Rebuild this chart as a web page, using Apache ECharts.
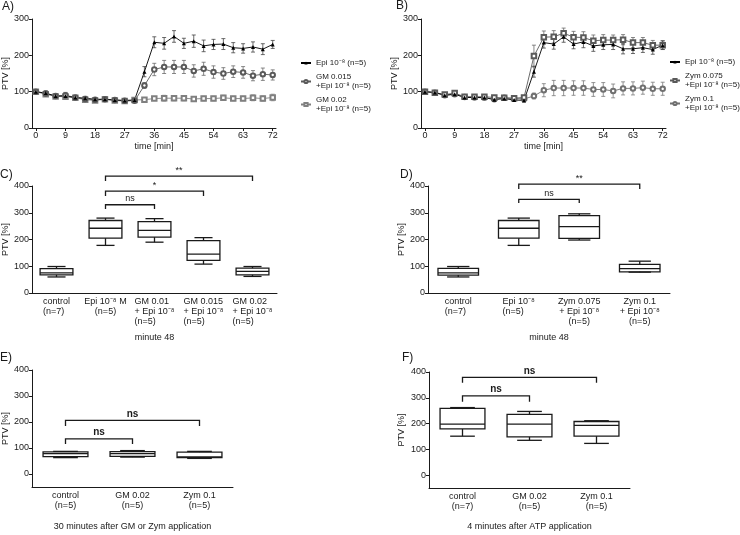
<!DOCTYPE html>
<html><head><meta charset="utf-8">
<script src="https://cdn.jsdelivr.net/npm/echarts@6/dist/echarts.min.js"></script>
<style>html,body{margin:0;padding:0;background:#fff}#c{width:740px;height:535px}</style>
</head><body><div id="c"></div>
<script>
// ---------------- DATA ----------------
const timeMin = [0,3,6,9,12,15,18,21,24,27,30,33,36,39,42,45,48,51,54,57,60,63,66,69,72];
const timeTicks = [0,9,18,27,36,45,54,63,72];

// Panel A
const nameEpi = 'Epi 10⁻⁸ (n=5)';
const nameGM015 = 'GM 0.015\n+Epi 10⁻⁸ (n=5)';
const nameGM02 = 'GM 0.02\n+Epi 10⁻⁸ (n=5)';
const epiA      = [100,96,88,88,84,82,79,79,77,76,77,155,236,233,252,233,239,226,230,231,221,219,223,217,230];
const epiAErr   = [3,6,4,6,4,5,3,6,4,3,5,14,15,16,16,14,17,16,14,15,14,13,14,15,11];
const gm015A    = [100,95,88,90,84,80,78,79,77,75,75,117,161,168,168,168,157,163,154,150,155,153,144,148,146];
const gm015AErr = [3,6,5,8,6,6,4,5,5,5,5,8,17,18,18,18,17,18,17,16,16,16,14,17,14];
const gm02A     = [100,93,87,86,83,78,76,79,76,74,77,78,81,82,82,82,80,81,81,83,81,81,83,81,84];
const gm02AErr  = [3,5,5,5,5,6,4,5,4,4,4,3,5,8,7,7,5,6,6,7,6,6,8,7,9];

// Panel B
const nameZym075 = 'Zym 0.075\n+Epi 10⁻⁸ (n=5)';
const nameZym01 = 'Zym 0.1\n+Epi 10⁻⁸ (n=5)';
const epiB       = [100,98,90,93,84,84,84,78,81,77,76,155,235,231,251,231,237,226,229,230,218,218,221,216,228];
const epiBErr    = [3,4,4,4,3,4,3,4,4,4,4,15,15,14,15,13,16,15,13,14,14,13,13,13,12];
const zym075B    = [100,97,92,96,86,86,86,84,83,82,84,198,250,251,261,250,249,240,242,242,243,235,235,228,228];
const zym075BErr = [3,3,3,4,3,3,3,4,3,3,4,30,17,17,14,16,16,16,15,14,14,14,14,13,12];
const zym01B     = [100,97,90,93,85,84,83,79,83,81,80,88,104,110,110,110,110,106,106,102,109,109,111,108,108];
const zym01BErr  = [3,4,4,4,4,3,4,4,4,4,4,8,18,21,21,20,20,19,19,19,18,18,18,18,18];

// Panel C  (min, q1, median, q3, max)
const catC = ['control\n(n=7)', 'Epi 10⁻⁸ M\n(n=5)', 'GM 0.01\n+ Epi 10⁻⁸\n(n=5)', 'GM 0.015\n+ Epi 10⁻⁸\n(n=5)', 'GM 0.02\n+ Epi 10⁻⁸\n(n=5)'];
const boxC = [[60,68,75,91,99],[178,205,242,271,280],[190,209,234,267,278],[108,122,145,196,207],[62,68,81,93,99]];
const bracketsC = [{from:1,to:2,top:330,drop:314,text:'ns'},{from:1,to:3,top:381,drop:363,text:'*'},{from:1,to:4,top:437,drop:419,text:'**'}];

// Panel D
const catD = ['control\n(n=7)', 'Epi 10⁻⁸\n(n=5)', 'Zym 0.075\n+ Epi 10⁻⁸\n(n=5)', 'Zym 0.1\n+ Epi 10⁻⁸\n(n=5)'];
const boxD = [[60,67,75,92,99],[178,205,242,271,280],[198,204,248,289,296],[78,79,91,107,119]];
const bracketsD = [{from:1,to:2,top:350,drop:336,text:'ns'},{from:1,to:3,top:407,drop:389,text:'**'}];

// Panel E
const catE = ['control\n(n=5)', 'GM 0.02\n(n=5)', 'Zym 0.1\n(n=5)'];
const boxE = [[63,67,78,85,87],[65,68,78,86,90],[60,63,66,84,87]];
const bracketsE = [{from:0,to:1,top:135,drop:115,text:'ns'},{from:0,to:2,top:206,drop:185,text:'ns'}];

// Panel F
const catF = ['control\n(n=7)', 'GM 0.02\n(n=5)', 'Zym 0.1\n(n=5)'];
const boxF = [[151,179,198,259,262],[135,148,198,236,247],[123,151,193,208,211]];
const bracketsF = [{from:0,to:1,top:307,drop:285,text:'ns'},{from:0,to:2,top:379,drop:358,text:'ns'}];

const yTicks300 = [0,100,200,300];
const yTicks400 = [0,100,200,300,400];

// ---------------- STYLE / HELPERS ----------------
const FONT = '"Liberation Sans", Arial, Helvetica, sans-serif';
const INK = '#1a1a1a';
const txt = {fontFamily: FONT, fontSize: 9, color: INK};

function errSeries(x, y, means, errs, color) {
  return {
    type: 'custom', xAxisIndex: x, yAxisIndex: y, clip: false, z: 1, silent: true,
    data: timeMin.map((t, i) => [t, means[i], errs[i]]),
    renderItem: function (params, api) {
      const t = api.value(0), m = api.value(1), e = api.value(2);
      const a = api.coord([t, m + e]), b = api.coord([t, m - e]);
      const w = 2, st = {stroke: color, lineWidth: 0.8};
      return {type: 'group', children: [
        {type: 'line', shape: {x1: a[0], y1: a[1], x2: b[0], y2: b[1]}, style: st},
        {type: 'line', shape: {x1: a[0] - w, y1: a[1], x2: a[0] + w, y2: a[1]}, style: st},
        {type: 'line', shape: {x1: b[0] - w, y1: b[1], x2: b[0] + w, y2: b[1]}, style: st}
      ]};
    }
  };
}
function lineSeries(name, x, y, vals, color, symbol, size) {
  return {
    type: 'line', name: name, xAxisIndex: x, yAxisIndex: y, z: 3,
    data: timeMin.map((t, i) => [t, vals[i]]),
    symbol: symbol, symbolSize: size, showAllSymbol: true,
    lineStyle: {color: color, width: 0.9},
    itemStyle: {color: color, borderWidth: 0.8}
  };
}
function boxSeries(idx, boxes) {
  return {
    type: 'custom', xAxisIndex: idx, yAxisIndex: idx, clip: false, silent: true,
    data: boxes.map((b, i) => [i, b[0], b[1], b[2], b[3], b[4]]),
    renderItem: function (params, api) {
      const i = api.value(0);
      const bw = api.size([1, 0])[0] * 0.67, cw = bw * 0.55;
      const x = api.coord([i, 0])[0];
      const y = v => api.coord([i, v])[1];
      const yMin = y(api.value(1)), yQ1 = y(api.value(2)), yMed = y(api.value(3)), yQ3 = y(api.value(4)), yMax = y(api.value(5));
      const st = {stroke: INK, lineWidth: 1.3, fill: 'none'};
      return {type: 'group', children: [
        {type: 'rect', shape: {x: x - bw / 2, y: yQ3, width: bw, height: yQ1 - yQ3}, style: st},
        {type: 'line', shape: {x1: x - bw / 2, y1: yMed, x2: x + bw / 2, y2: yMed}, style: st},
        {type: 'line', shape: {x1: x, y1: yQ3, x2: x, y2: yMax}, style: st},
        {type: 'line', shape: {x1: x, y1: yQ1, x2: x, y2: yMin}, style: st},
        {type: 'line', shape: {x1: x - cw / 2, y1: yMax, x2: x + cw / 2, y2: yMax}, style: st},
        {type: 'line', shape: {x1: x - cw / 2, y1: yMin, x2: x + cw / 2, y2: yMin}, style: st}
      ]};
    }
  };
}
function bracketSeries(idx, list, bold) {
  return {
    type: 'custom', xAxisIndex: idx, yAxisIndex: idx, clip: false, silent: true,
    data: list.map(b => [b.from, b.top]),
    renderItem: function (params, api) {
      const b = list[params.dataIndex];
      const p1 = api.coord([b.from, b.drop]), p2 = api.coord([b.from, b.top]);
      const p3 = api.coord([b.to, b.top]), p4 = api.coord([b.to, b.drop]);
      return {type: 'group', children: [
        {type: 'polyline', shape: {points: [p1, p2, p3, p4]}, style: {stroke: INK, lineWidth: 1.3, fill: 'none'}},
        {type: 'text', x: (p2[0] + p3[0]) / 2, y: p2[1] - 1.5,
          style: {text: b.text, align: 'center', verticalAlign: 'bottom', fill: INK,
            fontFamily: FONT, fontSize: bold ? 10 : 9, fontWeight: bold ? 'bold' : 'normal'}}
      ]};
    }
  };
}
function catLabel(aligns) {
  return {
    ...txt, lineHeight: 10, margin: 4, interval: 0,
    formatter: function (v, i) {
      const a = aligns[i];
      return v.split('\n').map(s => '{' + a + '|' + s + '}').join('\n');
    },
    rich: {
      l: {align: 'left', fontFamily: FONT, fontSize: 9, lineHeight: 10, color: INK},
      c: {align: 'center', fontFamily: FONT, fontSize: 9, lineHeight: 10, color: INK}
    }
  };
}
const axLine = {onZero: false, lineStyle: {color: INK, width: 1}};
function timeAxis(grid) {
  return {
    type: 'value', gridIndex: grid, min: -1.2, max: 73,
    axisLine: axLine, splitLine: {show: false},
    axisTick: {length: 3, lineStyle: {color: INK}, customValues: timeTicks},
    axisLabel: {...txt, margin: 3, customValues: timeTicks},
    name: 'time [min]', nameLocation: 'middle', nameGap: 14, nameTextStyle: {...txt}
  };
}
function catAxis(grid, cats, aligns, caption, gap) {
  return {
    type: 'category', gridIndex: grid, data: cats,
    axisLine: axLine, axisTick: {length: 3, alignWithLabel: true, lineStyle: {color: INK}},
    axisLabel: catLabel(aligns), splitLine: {show: false},
    name: caption, nameLocation: 'middle', nameGap: gap, nameTextStyle: {...txt}
  };
}
function valAxis(grid, min, max, ticks, gap) {
  return {
    type: 'value', gridIndex: grid, min: min, max: max,
    axisLine: {show: true, ...axLine}, splitLine: {show: false},
    axisTick: {show: true, length: 3, lineStyle: {color: INK}, customValues: ticks},
    axisLabel: {...txt, margin: 3, customValues: ticks},
    name: 'PTV [%]', nameLocation: 'middle', nameGap: gap, nameRotate: 90, nameTextStyle: {...txt}
  };
}
const letter = (t, x, y) => ({type: 'text', left: x, top: y, style: {text: t, fontFamily: FONT, fontSize: 12, fill: INK}});
const legendStyle = {orient: 'vertical', itemGap: 5, itemWidth: 10, itemHeight: 4, padding: 0,
  selectedMode: false, textStyle: {...txt, fontSize: 8, lineHeight: 9}};

const option = {
  animation: false,
  backgroundColor: '#fff',
  textStyle: {fontFamily: FONT},
  grid: [
    {left: 31, top: 19, width: 245, height: 109},
    {left: 421, top: 19, width: 245, height: 109},
    {left: 32, top: 186, width: 245, height: 107},
    {left: 428, top: 186, width: 242, height: 107},
    {left: 31, top: 370, width: 202, height: 117},
    {left: 429, top: 372, width: 201, height: 116}
  ],
  xAxis: [
    timeAxis(0), timeAxis(1),
    catAxis(2, catC, ['l','c','l','l','l'], 'minute 48', 40),
    catAxis(3, catD, ['l','l','c','c'], 'minute 48', 40),
    catAxis(4, catE, ['c','c','c'], '30 minutes after GM or Zym application', 35),
    catAxis(5, catF, ['c','c','c'], '4 minutes after ATP application', 34)
  ],
  yAxis: [
    valAxis(0, 0, 300, yTicks300, 19), valAxis(1, 0, 300, yTicks300, 19),
    valAxis(2, 0, 400, yTicks400, 21), valAxis(3, 0, 400, yTicks400, 21),
    valAxis(4, -50, 400, yTicks400, 22), valAxis(5, -50, 400, yTicks400, 23)
  ],
  legend: [
    {...legendStyle, data: [nameEpi, nameGM015, nameGM02], left: 300, top: 58.5},
    {...legendStyle, data: [nameEpi, nameZym075, nameZym01], left: 669, top: 57.5}
  ],
  graphic: [letter('A)', 2, 1), letter('B)', 396, 0), letter('C)', 0, 169), letter('D)', 400, 169), letter('E)', 0, 352), letter('F)', 402, 352)],
  series: [
    errSeries(0, 0, gm02A, gm02AErr, '#8a8a8a'),
    errSeries(0, 0, gm015A, gm015AErr, '#6a6a6a'),
    errSeries(0, 0, epiA, epiAErr, '#444'),
    lineSeries(nameGM02, 0, 0, gm02A, '#808080', 'emptyRect', 4.5),
    lineSeries(nameGM015, 0, 0, gm015A, '#5a5a5a', 'emptyCircle', 4.5),
    lineSeries(nameEpi, 0, 0, epiA, '#000', 'triangle', 4),
    errSeries(1, 1, zym01B, zym01BErr, '#7a7a7a'),
    errSeries(1, 1, zym075B, zym075BErr, '#6a6a6a'),
    errSeries(1, 1, epiB, epiBErr, '#444'),
    lineSeries(nameZym01, 1, 1, zym01B, '#707070', 'emptyCircle', 4.5),
    lineSeries(nameZym075, 1, 1, zym075B, '#5a5a5a', 'emptyRect', 4.5),
    lineSeries(nameEpi, 1, 1, epiB, '#000', 'triangle', 4),
    boxSeries(2, boxC), bracketSeries(2, bracketsC, false),
    boxSeries(3, boxD), bracketSeries(3, bracketsD, false),
    boxSeries(4, boxE), bracketSeries(4, bracketsE, true),
    boxSeries(5, boxF), bracketSeries(5, bracketsF, true)
  ]
};
const chart = echarts.init(document.getElementById('c'), null, {renderer: 'canvas'});
chart.setOption(option);
</script>
</body></html>
